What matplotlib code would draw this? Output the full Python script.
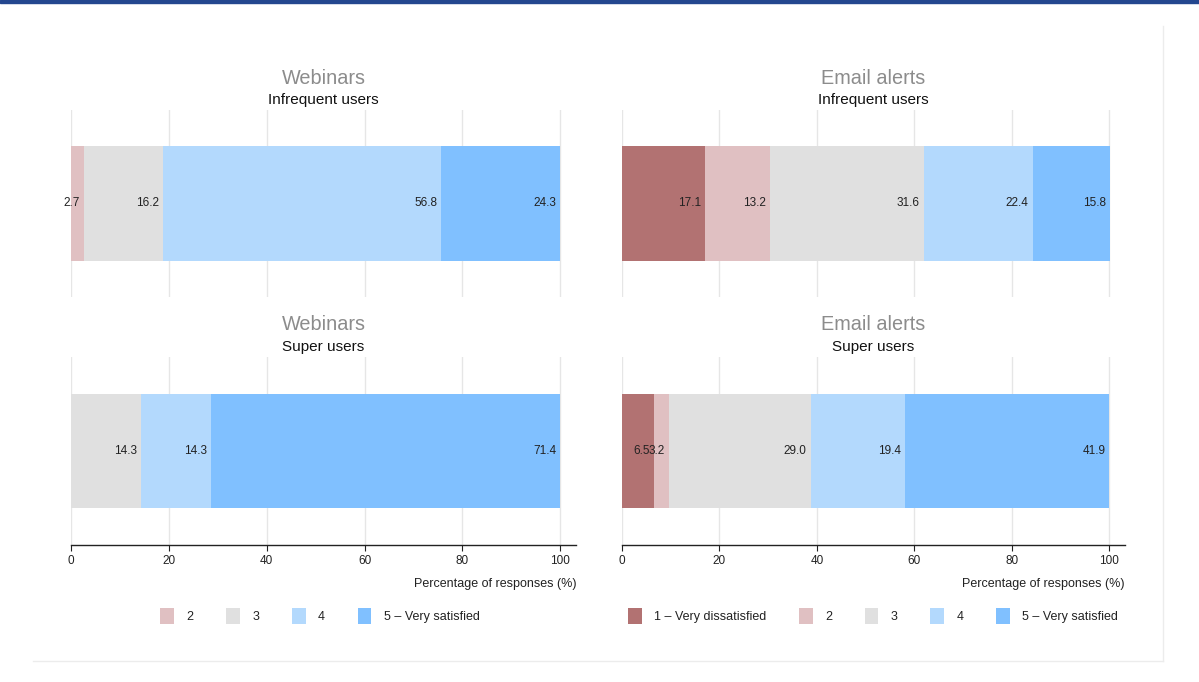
import matplotlib

matplotlib.use("Agg")
from matplotlib import pyplot as plt
from matplotlib.lines import Line2D
from matplotlib.patches import Patch, Rectangle

plt.rcParams["font.family"] = ["Liberation Sans", "DejaVu Sans"]

categories = ["1 – Very dissatisfied", "2", "3", "4", "5 – Very satisfied"]
colors = ["#b27272", "#e0c0c2", "#e0e0e0", "#b3d9fd", "#80c0ff"]

groups = ["Webinars", "Email alerts"]
user_types = ["Infrequent users", "Super users"]

webinars_infrequent = [0, 2.7, 16.2, 56.8, 24.3]
webinars_super = [0, 0, 14.3, 14.3, 71.4]
email_infrequent = [17.1, 13.2, 31.6, 22.4, 15.8]
email_super = [6.5, 3.2, 29.0, 19.4, 41.9]

panel_values = {
    ("Webinars", "Infrequent users"): webinars_infrequent,
    ("Webinars", "Super users"): webinars_super,
    ("Email alerts", "Infrequent users"): email_infrequent,
    ("Email alerts", "Super users"): email_super,
}

xticks = [0, 20, 40, 60, 80, 100]

W, H = 1199, 682
fig = plt.figure(figsize=(W / 100, H / 100), dpi=100)

# decorations: top band and the light card edge
fig.patches.append(Rectangle((0, 1 - 2.5 / H), 1, 2.5 / H, transform=fig.transFigure, color="#24478f", zorder=0))
fig.lines.append(Line2D([1163 / W, 1163 / W], [1 - 26 / H, 1 - 661 / H], transform=fig.transFigure, color="#ececec", lw=1))
fig.lines.append(Line2D([33 / W, 1163 / W], [1 - 661 / H, 1 - 661 / H], transform=fig.transFigure, color="#ececec", lw=1))

col_left = {"Webinars": (71, 576), "Email alerts": (622, 1125)}
row_top = {"Infrequent users": (110, 297), "Super users": (357, 545)}

for group in groups:
    x0, x1 = col_left[group]
    for user in user_types:
        y0, y1 = row_top[user]
        ax = fig.add_axes([x0 / W, 1 - y1 / H, (x1 - x0) / W, (y1 - y0) / H])
        values = panel_values[(group, user)]
        left = 0
        for val, color in zip(values, colors):
            if val > 0:
                ax.barh(0, val, left=left, height=0.61, color=color, edgecolor="none", zorder=2)
                ax.annotate(
                    f"{val:.1f}",
                    xy=(left + val, 0),
                    xytext=(-3, 0),
                    textcoords="offset points",
                    ha="right",
                    va="center",
                    fontsize=8.5,
                    color="#222222",
                    zorder=3,
                )
            left += val
        ax.set_xlim(0, 103.2)
        ax.set_ylim(-0.5, 0.5)
        ax.set_yticks([])
        ax.set_xticks(xticks)
        ax.grid(axis="x", color="#e6e6e6", lw=1.0, zorder=0)
        for s in ["top", "right", "left"]:
            ax.spines[s].set_visible(False)
        if user == "Super users":
            ax.spines["bottom"].set_color("#222222")
            ax.spines["bottom"].set_linewidth(1.0)
            ax.tick_params(axis="x", length=4, width=0.8, color="#222222", labelsize=8.5, labelcolor="#222222", pad=3)
            ax.set_xlabel("Percentage of responses (%)", fontsize=9, color="#222222", loc="right", labelpad=8)
        else:
            ax.spines["bottom"].set_visible(False)
            ax.tick_params(axis="x", length=0, labelbottom=False)

        cx = (x0 + x1) / 2 / W
        fig.text(cx, 1 - (y0 - 32) / H, group, ha="center", va="center", fontsize=14.3, color="#8c8c8c")
        fig.text(cx, 1 - (y0 - 10) / H, user, ha="center", va="center", fontsize=11, color="#111111")

    # legend: categories present in this column
    used = [
        i
        for i in range(len(categories))
        if any(panel_values[(group, u)][i] > 0 for u in user_types)
    ]
    handles = [Patch(facecolor=colors[i], edgecolor="none") for i in used]
    labels = [categories[i] for i in used]
    legend_cx = {"Webinars": 320, "Email alerts": 873}[group]
    fig.legend(
        handles,
        labels,
        loc="center",
        bbox_to_anchor=(legend_cx / W, 1 - 616 / H),
        ncol=len(used),
        frameon=False,
        fontsize=9,
        handlelength=1.1,
        handleheight=1.5,
        handletextpad=1.0,
        columnspacing=2.6,
        labelcolor="#222222",
    )

fig.savefig("out.png", dpi=100, facecolor="white")
